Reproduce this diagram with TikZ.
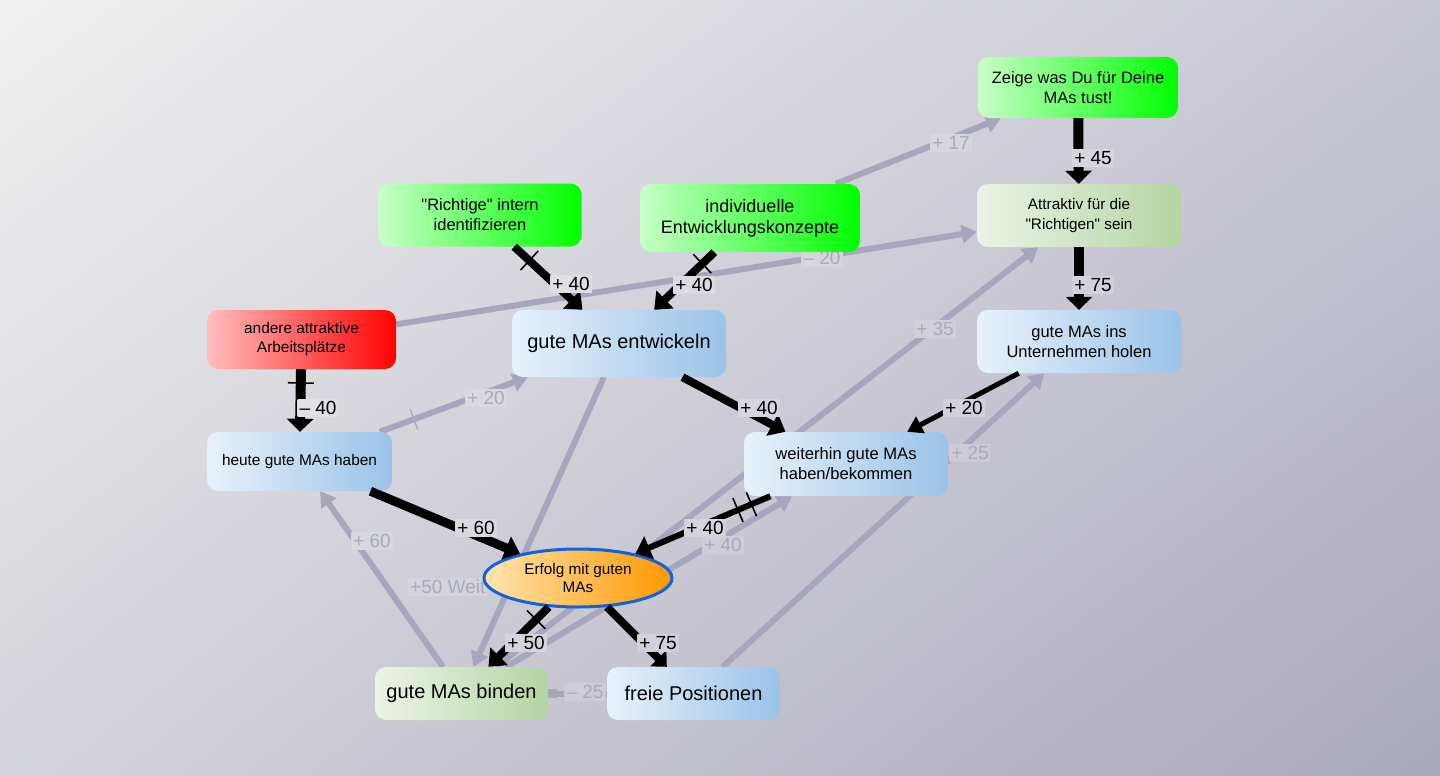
\documentclass[tikz,border=0pt]{standalone}
\usepackage{fontspec}
\setmainfont{Liberation Sans}[Ligatures=TeXOff]
\usetikzlibrary{arrows.meta,shapes.geometric,shadings}
\definecolor{bgTL}{RGB}{241,241,241}
\definecolor{bgTR}{RGB}{200,200,212}
\definecolor{bgBL}{RGB}{212,212,219}
\definecolor{bgBR}{RGB}{170,168,188}
\definecolor{bL}{RGB}{232,242,252}
\definecolor{bD}{RGB}{155,195,232}
\definecolor{gL}{RGB}{200,255,200}
\definecolor{gD}{RGB}{0,255,0}
\definecolor{pL}{RGB}{236,244,230}
\definecolor{pD}{RGB}{180,213,164}
\definecolor{rL}{RGB}{255,190,190}
\definecolor{rD}{RGB}{255,0,0}
\definecolor{oL}{RGB}{255,228,175}
\definecolor{oD}{RGB}{255,152,0}
\definecolor{eB}{RGB}{15,100,222}
\definecolor{grayE}{RGB}{168,166,188}
\definecolor{grayT}{RGB}{170,170,190}
\begin{document}
\begin{tikzpicture}[x=1pt,y=-1pt,
  bgshade/.style={upper left=bgTL, upper right=bgTR, lower left=bgBL, lower right=bgBR},
  box/.style={rectangle, rounded corners=11pt, align=center, inner sep=2pt, text=black},
  blueF/.style={left color=bL, right color=bD},
  greenF/.style={left color=gL, right color=gD},
  paleF/.style={left color=pL, right color=pD},
  redF/.style={left color=rL, right color=rD},
  fs/.style={font=\fontsize{#1}{20}\selectfont},
  blk/.style={draw=black, line width=#1, -{Triangle[length=15pt,width=24pt]}},
  gry/.style={draw=grayE, line width=6pt, -{Triangle[length=15pt,width=18pt]}},
  tickm/.style={rectangle, draw=black, line width=1.6pt, inner sep=0pt, minimum width=0pt, minimum height=26pt, sloped},
  gtick/.style={rectangle, draw=grayE, line width=1.2pt, inner sep=0pt, minimum width=0pt, minimum height=22pt, sloped},
  lbg/.style={path picture={\pgftransformreset
      \shade[bgshade] (0,0) rectangle (1440,776);
      \fill[white, opacity=#1] (0,0) rectangle (1440,776);}},
  lblk/.style={lbg=0.22, text=black, inner sep=2pt, font=\fontsize{19}{19}\selectfont},
  lgry/.style={lbg=0.14, text=grayT, inner sep=2pt, font=\fontsize{19}{19}\selectfont}
]
\useasboundingbox (0,0) rectangle (1440,776);
\shade[bgshade] (0,0) rectangle (1440,776);

\path
  (1078,87.5) coordinate (pZeige)
  (480,215) coordinate (pRicht)
  (750,218) coordinate (pIndiv)
  (1079,215.5) coordinate (pAttr)
  (301.5,339.5) coordinate (pAndere)
  (619,343.5) coordinate (pEntw)
  (1079,341.5) coordinate (pHolen)
  (299.5,461.5) coordinate (pHeute)
  (846,464) coordinate (pWeiter)
  (578,578) coordinate (pErf)
  (461.5,693.5) coordinate (pBinden)
  (693.5,693.5) coordinate (pFreie);

\begin{scope}[opacity=0]
\node[box, minimum width=200pt, minimum height=61pt] (zeigeB) at (pZeige) {};
\node[box, minimum width=203pt, minimum height=63pt] (richtB) at (pRicht) {};
\node[box, minimum width=220pt, minimum height=68pt] (indivB) at (pIndiv) {};
\node[box, minimum width=204pt, minimum height=63pt] (attrB) at (pAttr) {};
\node[box, minimum width=189pt, minimum height=59pt] (andereB) at (pAndere) {};
\node[box, minimum width=214pt, minimum height=67pt] (entwB) at (pEntw) {};
\node[box, minimum width=204pt, minimum height=63pt] (holenB) at (pHolen) {};
\node[box, minimum width=185pt, minimum height=59pt] (heuteB) at (pHeute) {};
\node[box, minimum width=204pt, minimum height=64pt] (weiterB) at (pWeiter) {};
\node[ellipse, minimum width=188pt, minimum height=58pt, inner sep=0pt, line width=3pt] (erfB) at (pErf) {};
\node[box, minimum width=173pt, minimum height=53pt] (bindenB) at (pBinden) {};
\node[box, minimum width=173pt, minimum height=53pt] (freieB) at (pFreie) {};
\end{scope}

% ---------- gray edges ----------
\draw[gry] (indivB) -- (zeigeB);
\draw[gry] (andereB) -- (attrB);
\draw[gry] (heuteB) -- node[gtick, pos=0.23] (gt1) {} (entwB);
\draw[gry] (entwB) -- (bindenB);
\draw[gry] (bindenB) -- (attrB);
\draw[gry] (bindenB) -- (heuteB);
\draw[gry] (bindenB) -- (weiterB);
\draw[gry] (freieB) -- (holenB);
\draw[draw=grayE, line width=6pt, {Square[length=9pt,width=9pt]}-] (bindenB) -- (freieB);

\node[lgry] (g17) at (951,143) {+ 17};
\node[lgry] (g20a) at (822,258) {– 20};
\node[lgry] (g20b) at (486,398) {+ 20};
\node[lgry] (g35) at (935,329) {+ 35};
\node[lgry] (g60) at (372,541) {+ 60};
\node[lgry, anchor=west] (g50) at (408,587) {+50 Weit};
\node[lgry] (g40) at (723,545) {+ 40};
\node[lgry] (g25a) at (970,453) {+ 25};
\node[lgry] (g25b) at (585,692) {– 25};

% ---------- visible nodes ----------
\node[box, greenF, minimum width=200pt, minimum height=61pt, fs=16.5] (zeige) at (pZeige) {Zeige was Du für Deine\\MAs tust!};
\node[box, greenF, minimum width=203pt, minimum height=63pt, fs=16.5] (richt) at (pRicht) {"Richtige" intern\\identifizieren};
\node[box, greenF, minimum width=220pt, minimum height=68pt, font=\fontsize{18}{21}\selectfont] (indiv) at (pIndiv) {individuelle\\Entwicklungskonzepte};
\node[box, paleF, minimum width=204pt, minimum height=63pt, fs=15.3] (attr) at (pAttr) {Attraktiv für die\\"Richtigen" sein};
\node[box, redF, minimum width=189pt, minimum height=59pt, font=\fontsize{15.4}{19}\selectfont] (andere) at (pAndere) {andere attraktive\\Arbeitsplätze};
\node[box, blueF, minimum width=214pt, minimum height=67pt, fs=20] (entw) at (pEntw) {gute MAs entwickeln};
\node[box, blueF, minimum width=204pt, minimum height=63pt, fs=16.5] (holen) at (pHolen) {gute MAs ins\\Unternehmen holen};
\node[box, blueF, minimum width=185pt, minimum height=59pt, fs=15.4] (heute) at (pHeute) {heute gute MAs haben};
\node[box, blueF, minimum width=204pt, minimum height=64pt, fs=16.6] (weiter) at (pWeiter) {weiterhin gute MAs\\haben/bekommen};
\node[ellipse, minimum width=188pt, minimum height=58pt, inner sep=0pt, left color=oL, right color=oD, draw=eB, line width=3pt, align=center, font=\fontsize{15.3}{18}\selectfont] (erf) at (pErf) {Erfolg mit guten\\MAs};
\node[box, paleF, minimum width=173pt, minimum height=53pt, fs=20] (binden) at (pBinden) {gute MAs binden};
\node[box, blueF, minimum width=173pt, minimum height=53pt, fs=20] (freie) at (pFreie) {freie Positionen};

% ---------- black edges ----------
\draw[blk=8pt] (richt) -- node[tickm, pos=0.22] (t1) {} (entw);
\draw[blk=8pt] (indiv) -- node[tickm, pos=0.2] (t2) {} (entw);
\draw[blk=10pt, -{Triangle[length=13pt,width=26pt]}] (zeige) -- (attr);
\draw[blk=10pt, -{Triangle[length=13pt,width=26pt]}] (attr) -- (holen);
\draw[blk=10pt, -{Triangle[length=13pt,width=26pt]}] (andere) -- node[tickm, pos=0.22] (t3) {} (heute);
\draw[blk=8pt] (entw) -- (weiter);
\draw[blk=5pt, -{Triangle[length=15pt,width=18pt]}] (holen) -- (weiter);
\draw[blk=9pt] (heute) -- (erf);
\draw[blk=6pt] (weiter) -- node[tickm, pos=0.14] (t4) {} node[tickm, pos=0.24] (t5) {} (erf);
\draw[blk=8pt] (erf) -- node[tickm, pos=0.21] (t6) {} (binden);
\draw[blk=8pt, -{Triangle[length=12pt,width=22pt]}] (erf) -- (freie);

\node[lblk] (l1) at (571,284) {+ 40};
\node[lblk] (l2) at (694,285) {+ 40};
\node[lblk] (l3) at (1093,158) {+ 45};
\node[lblk] (l4) at (1093,285) {+ 75};
\node[lblk] (l5) at (318,408) {– 40};
\node[lblk] (l6) at (759,408) {+ 40};
\node[lblk] (l7) at (964,408) {+ 20};
\node[lblk] (l8) at (476,528) {+ 60};
\node[lblk] (l9) at (705,528) {+ 40};
\node[lblk] (l10) at (526,643) {+ 50};
\node[lblk] (l11) at (658,643) {+ 75};
\end{tikzpicture}
\end{document}
